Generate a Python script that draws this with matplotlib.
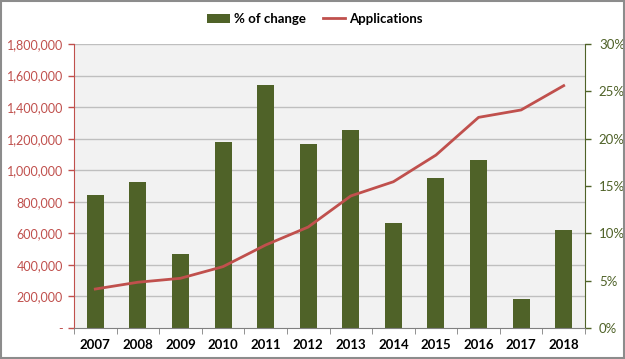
import matplotlib
matplotlib.use("Agg")
import matplotlib.pyplot as plt
from matplotlib.ticker import FuncFormatter, FixedLocator
from matplotlib.patches import Rectangle

years = ["2007", "2008", "2009", "2010", "2011", "2012", "2013", "2014", "2015", "2016", "2017", "2018"]
pct_change = [14.1, 15.4, 7.8, 19.6, 25.7, 19.4, 20.9, 11.1, 15.8, 17.7, 3.1, 10.4]
applications = [247000, 290000, 315000, 389000, 526000, 640000, 837000, 927000, 1096000, 1335000, 1382000, 1536000]

plt.rcParams['font.family'] = ['Lato', 'DejaVu Sans']

red = "#C0504D"
olive = "#4F6228"

fig = plt.figure(figsize=(6.25, 3.59), dpi=100)
ax = fig.add_axes([74/625, 1-328/359, (585-74)/625, (328-44)/359])
ax2 = ax.twinx()

x = list(range(len(years)))

# bars on secondary (right) axis
ax2.bar(x, pct_change, width=0.4, color=olive, zorder=2, label="% of change")
ax2.set_ylim(0, 30)
ax2.yaxis.set_major_locator(FixedLocator([0, 5, 10, 15, 20, 25, 30]))
ax2.yaxis.set_major_formatter(FuncFormatter(lambda v, p: f"{int(v)}%"))

# line on primary (left) axis
ax.plot(x, applications, color=red, linewidth=2, zorder=3, label="Applications")
ax.set_ylim(0, 1800000)
ax.yaxis.set_major_locator(FixedLocator(range(0, 1800001, 200000)))
ax.yaxis.set_major_formatter(FuncFormatter(lambda v, p: "-" if v == 0 else f"{int(v):,}"))
ax.set_xlim(-0.5, len(years) - 0.5)

ax.set_zorder(ax2.get_zorder() + 1)
ax.patch.set_visible(False)
ax2.patch.set_visible(True)
ax2.patch.set_facecolor("#F2F2F2")

for v in range(200000, 1800001, 200000):
    ax2.axhline(v / 1800000 * 30, color="#BFBFBF", linewidth=1, zorder=1)

ax.set_xticks(x)
ax.set_xticklabels(years, fontweight="bold", fontsize=9.5)
ax.xaxis.set_minor_locator(FixedLocator([i + 0.5 for i in range(-1, len(years))]))
ax.tick_params(axis="x", which="major", length=0, pad=8)
ax.tick_params(axis="x", which="minor", length=4, color="#808080")

ax.tick_params(axis="y", colors=red, labelsize=9, length=4, width=1, pad=4)
ax2.tick_params(axis="y", colors=olive, labelsize=9.5, length=4, width=1, pad=6)

for a in (ax, ax2):
    a.spines["top"].set_visible(False)
ax.spines["left"].set_color(red)
ax.spines["right"].set_visible(False)
ax.spines["bottom"].set_color("#808080")
ax2.spines["left"].set_visible(False)
ax2.spines["bottom"].set_visible(False)
ax2.spines["right"].set_color(olive)

h1, l1 = ax2.get_legend_handles_labels()
h2, l2 = ax.get_legend_handles_labels()
fig.legend(h1 + h2, l1 + l2, loc="center", bbox_to_anchor=(315/625, 1 - 19/359), ncol=2,
           frameon=False, prop={"weight": "bold", "size": 9.5}, handlelength=1.7,
           handletextpad=0.3, columnspacing=1.3)

fig.patches.append(Rectangle((0.002, 0.003), 0.996, 0.994, transform=fig.transFigure,
                             fill=False, edgecolor="#8C8C8C", linewidth=1.5))

fig.savefig("out.png", dpi=100)
